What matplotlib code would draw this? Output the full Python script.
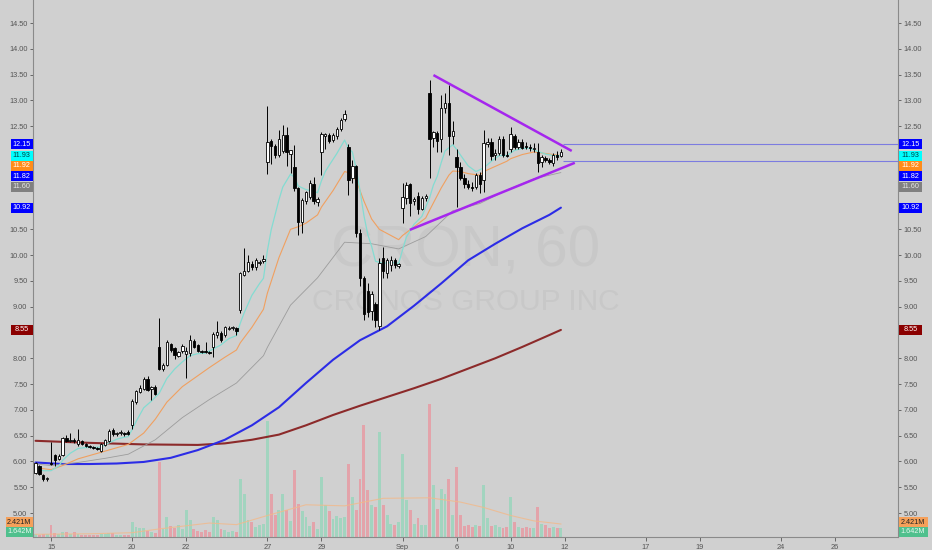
import matplotlib
matplotlib.use("Agg")
import matplotlib.pyplot as plt
from matplotlib.patches import Rectangle
import numpy as np

plt.rcParams['font.family'] = ['Liberation Sans', 'DejaVu Sans']

# CRON 60 min bars. bar 0 = Aug 15 open, 7 bars per trading day
first_bar = -4
opens = [5.78, 5.91, 5.74, 5.65,
         5.97, 6.13, 6.05, 6.13, 6.45, 6.40, 6.40,
         6.33, 6.40, 6.33, 6.30, 6.28, 6.26, 6.21,
         6.32, 6.40, 6.60, 6.53, 6.56, 6.54, 6.57,
         6.70, 7.15, 7.35, 7.40, 7.60, 7.40, 7.45,
         8.22, 7.80, 7.87, 8.27, 8.20, 8.05, 8.14,
         8.08, 8.10, 8.34, 8.25, 8.14, 8.13, 8.13,
         8.21, 8.46, 8.49, 8.45, 8.56, 8.58, 8.58,
         8.94, 9.62, 9.70, 9.82, 9.76, 9.85, 9.88,
         11.80, 12.22, 12.12, 11.95, 12.02, 12.32, 11.97,
         11.70, 11.30, 10.65, 11.05, 11.12, 11.37, 11.03,
         12.00, 12.30, 12.33, 12.24, 12.30, 12.44, 12.63,
         12.10, 11.50, 11.72, 10.43, 9.55, 9.30, 8.92,
         9.05, 8.62, 9.95, 9.65, 9.80, 9.90, 9.78,
         10.92, 11.10, 11.38, 11.05, 11.15, 10.90, 11.10,
         13.15, 12.28, 12.36, 12.25, 12.85, 12.95, 12.30,
         11.90, 11.70, 11.50, 11.38, 11.33, 11.32, 11.55,
         11.46, 12.15, 12.20, 11.95, 11.98, 12.25, 11.95,
         12.05, 12.30, 12.10, 12.20, 12.12, 12.10, 12.05,
         12.00, 11.80, 11.88, 11.85, 11.78, 11.95, 11.92]
highs = [5.99, 5.93, 5.76, 5.70,
         6.38, 6.15, 6.15, 6.47, 6.52, 6.56, 6.45,
         6.63, 6.42, 6.36, 6.32, 6.30, 6.28, 6.35,
         6.43, 6.63, 6.65, 6.58, 6.60, 6.58, 6.60,
         7.22, 7.38, 7.48, 7.64, 7.65, 7.46, 7.48,
         8.78, 7.90, 8.36, 8.30, 8.22, 8.15, 8.28,
         8.22, 8.45, 8.38, 8.28, 8.16, 8.32, 8.15,
         8.50, 8.73, 8.52, 8.62, 8.62, 8.62, 8.60,
         9.68, 10.13, 10.00, 9.88, 9.95, 9.90, 10.00,
         12.89, 12.25, 12.15, 12.42, 12.52, 12.48, 12.04,
         12.14, 11.32, 11.10, 11.25, 11.45, 11.52, 11.12,
         12.38, 12.36, 12.36, 12.36, 12.48, 12.66, 12.82,
         12.15, 11.85, 11.75, 10.50, 9.60, 9.45, 9.30,
         9.10, 9.95, 10.15, 9.95, 9.98, 9.95, 9.85,
         11.40, 11.42, 11.40, 11.12, 11.22, 11.15, 11.18,
         13.40, 12.40, 12.40, 13.10, 13.15, 13.30, 12.60,
         12.05, 11.80, 11.58, 11.45, 11.42, 11.60, 11.62,
         12.43, 12.28, 12.28, 12.05, 12.30, 12.30, 12.02,
         12.48, 12.35, 12.25, 12.25, 12.20, 12.15, 12.18,
         12.17, 11.95, 11.92, 11.88, 11.98, 12.02, 12.05]
lows = [5.76, 5.74, 5.62, 5.62,
        5.93, 5.91, 6.02, 6.10, 6.38, 6.37, 6.36,
        6.30, 6.31, 6.28, 6.26, 6.24, 6.22, 6.19,
        6.30, 6.38, 6.50, 6.50, 6.52, 6.50, 6.52,
        6.62, 7.12, 7.33, 7.38, 7.36, 7.20, 7.28,
        7.78, 7.76, 7.85, 8.12, 7.98, 8.02, 8.10,
        7.62, 8.05, 8.20, 8.12, 8.10, 8.10, 8.08,
        8.02, 8.40, 8.32, 8.42, 8.54, 8.55, 8.45,
        8.88, 9.60, 9.68, 9.72, 9.72, 9.80, 9.85,
        11.57, 11.76, 11.88, 11.90, 11.98, 11.73, 11.59,
        11.25, 10.39, 10.42, 11.00, 11.08, 11.00, 10.95,
        11.55, 12.05, 12.18, 12.20, 12.25, 12.40, 12.60,
        11.17, 11.40, 10.35, 9.40, 8.75, 8.80, 8.75,
        8.60, 8.55, 9.55, 9.55, 9.70, 9.75, 9.75,
        10.62, 11.00, 10.75, 10.98, 10.80, 10.88, 11.05,
        11.50, 12.10, 12.00, 12.00, 12.75, 11.95, 12.15,
        10.94, 11.45, 11.30, 11.28, 11.25, 11.28, 11.20,
        11.23, 12.10, 11.85, 11.85, 11.95, 11.90, 11.90,
        12.00, 12.05, 12.05, 12.05, 12.05, 12.02, 12.00,
        11.62, 11.70, 11.80, 11.76, 11.72, 11.85, 11.90]
closes = [5.97, 5.76, 5.65, 5.67,
          5.95, 6.02, 6.10, 6.45, 6.40, 6.41, 6.39,
          6.42, 6.33, 6.30, 6.28, 6.26, 6.24, 6.33,
          6.41, 6.59, 6.53, 6.56, 6.56, 6.53, 6.54,
          7.18, 7.36, 7.42, 7.60, 7.38, 7.44, 7.30,
          7.80, 7.86, 8.32, 8.17, 8.06, 8.12, 8.24,
          8.14, 8.35, 8.22, 8.14, 8.13, 8.12, 8.11,
          8.48, 8.50, 8.35, 8.60, 8.59, 8.58, 8.52,
          9.65, 9.70, 9.87, 9.76, 9.90, 9.85, 9.93,
          12.20, 12.12, 11.95, 12.25, 12.32, 12.00, 12.03,
          11.30, 10.65, 11.07, 11.22, 11.40, 11.05, 11.08,
          12.35, 12.34, 12.22, 12.33, 12.44, 12.62, 12.74,
          11.45, 11.72, 10.43, 9.55, 8.85, 8.90, 9.25,
          8.75, 9.85, 9.70, 9.90, 9.90, 9.80, 9.82,
          11.12, 11.36, 11.02, 11.08, 10.90, 11.10, 11.15,
          12.25, 12.38, 12.22, 12.85, 12.95, 12.30, 12.40,
          11.70, 11.50, 11.38, 11.33, 11.30, 11.55, 11.38,
          12.17, 12.20, 11.92, 11.98, 12.25, 11.95, 11.93,
          12.35, 12.10, 12.20, 12.08, 12.10, 12.08, 12.06,
          11.78, 11.90, 11.85, 11.80, 11.95, 11.90, 12.00]
volumes = [0.5, 0.4, 0.6, 0.5,
           2.3, 0.8, 0.6, 0.9, 1.0, 0.5, 1.0,
           0.6, 0.4, 0.4, 0.3, 0.3, 0.4, 0.5,
           0.5, 0.8, 0.7, 0.4, 0.3, 0.3, 0.4,
           2.8, 1.8, 1.6, 1.7, 1.2, 0.9, 0.8,
           14.0, 1.5, 3.7, 2.0, 1.6, 2.2, 1.5,
           5.0, 3.2, 1.5, 1.2, 1.0, 1.3, 0.9,
           3.7, 3.2, 1.5, 1.3, 1.0, 1.2, 1.0,
           10.8, 8.0, 3.2, 2.8, 1.8, 2.2, 2.5,
           21.6, 8.0, 4.1, 5.0, 8.0, 5.0, 3.0,
           12.5, 6.1, 4.8, 3.7, 2.0, 2.8, 1.5,
           11.2, 6.0, 4.8, 3.4, 4.0, 3.5, 3.8,
           13.6, 7.4, 5.0, 10.8, 20.8, 8.7, 6.0,
           5.5, 19.5, 6.0, 4.1, 2.5, 2.2, 2.8,
           15.4, 6.9, 5.0, 2.5, 3.5, 2.2, 2.2,
           24.7, 9.7, 5.2, 8.9, 8.0, 10.8, 4.1,
           13.0, 4.1, 2.0, 2.2, 1.8, 2.2, 2.0,
           9.7, 3.5, 2.0, 2.2, 1.9, 1.7, 1.8,
           7.4, 2.8, 1.9, 1.7, 1.8, 1.6, 1.6,
           5.6, 2.4, 2.2, 1.7, 1.8, 1.6, 1.642]  # millions

# moving averages: (bar, value)
ema9_pts = [(-4, 5.88), (-2, 5.82), (0, 5.82), (2, 5.91), (3, 6.02), (5, 6.16), (7, 6.25),
            (9, 6.27), (11, 6.27), (13, 6.28), (15, 6.36), (17, 6.43), (19, 6.47), (20, 6.48),
            (21, 6.62), (22, 6.77), (24, 7.04), (26, 7.17), (28, 7.32), (30, 7.61), (32, 7.79),
            (34, 7.93), (36, 8.05), (38, 8.09), (40, 8.10), (42, 8.18), (44, 8.26), (46, 8.38),
            (48, 8.44), (49, 8.68), (50, 8.88), (52, 9.22), (54, 9.45), (55, 9.55), (56, 10.08),
            (57, 10.49), (58, 10.78), (59, 11.07), (60, 11.32), (62, 11.57), (63, 11.51),
            (64, 11.34), (66, 11.27), (68, 11.24), (69, 11.21), (70, 11.44), (71, 11.62),
            (72, 11.74), (74, 11.97), (76, 12.23), (77, 12.07), (78, 12.00), (79, 11.68),
            (80, 11.25), (81, 10.77), (82, 10.40), (83, 10.17), (84, 9.88), (86, 9.84),
            (88, 9.86), (90, 9.84), (91, 10.10), (92, 10.35), (94, 10.60), (96, 10.75),
            (98, 11.11), (99, 11.36), (100, 11.53), (101, 11.79), (102, 12.02), (103, 12.08),
            (104, 12.14), (105, 12.05), (106, 11.94), (108, 11.73), (110, 11.62), (112, 11.69),
            (114, 11.82), (116, 11.93), (118, 11.93), (120, 12.03), (122, 12.07), (124, 12.07),
            (126, 12.01), (128, 11.96), (130, 11.93), (132, 11.93)]
ema20_pts = [(-4, 5.88), (0, 5.84), (3, 5.92), (7, 6.05), (14, 6.20), (20, 6.33), (24, 6.55),
             (27, 6.82), (30, 7.15), (34, 7.45), (41, 7.82), (45, 8.02), (48, 8.16), (49, 8.30),
             (52, 8.60), (55, 8.95), (56, 9.26), (59, 9.95), (62, 10.50), (64, 10.55),
             (66, 10.62), (69, 10.78), (70, 10.93), (73, 11.25), (76, 11.62), (77, 11.60),
             (79, 11.45), (81, 11.05), (83, 10.70), (85, 10.50), (88, 10.38), (90, 10.30),
             (91, 10.38), (94, 10.55), (97, 10.72), (98, 10.87), (101, 11.30), (103, 11.55),
             (104, 11.63), (106, 11.62), (108, 11.58), (111, 11.55), (112, 11.62), (115, 11.72),
             (118, 11.82), (119, 11.87), (122, 11.95), (125, 12.00), (128, 11.97), (132, 11.93)]
ema50_pts = [(-4, 5.95), (0, 5.92), (7, 5.98), (14, 6.06), (20, 6.14), (27, 6.42), (34, 6.85),
             (41, 7.20), (48, 7.52), (55, 8.05), (56, 8.21), (62, 9.03), (69, 9.56), (76, 10.25),
             (83, 10.22), (90, 10.12), (97, 10.36), (104, 10.86), (111, 11.00), (118, 11.26),
             (125, 11.48), (132, 11.60)]
ma100_pts = [(-4, 5.98), (3, 5.95), (10, 5.95), (17, 5.96), (24, 5.99), (31, 6.07), (38, 6.22),
             (45, 6.42), (52, 6.70), (59, 7.05), (66, 7.52), (73, 7.97), (80, 8.35), (87, 8.62),
             (94, 9.02), (101, 9.45), (108, 9.90), (115, 10.22), (122, 10.52), (129, 10.78),
             (132, 10.92)]
ma200_pts = [(-4, 6.40), (10, 6.36), (24, 6.33), (38, 6.32), (45, 6.35), (52, 6.42), (59, 6.52),
             (66, 6.70), (73, 6.90), (80, 7.08), (87, 7.25), (94, 7.42), (101, 7.60), (108, 7.80),
             (115, 8.00), (122, 8.22), (129, 8.45), (132, 8.55)]
volma_pts = [(-4, 0.5), (10, 0.6), (21, 0.8), (28, 1.5), (41, 2.6), (48, 2.3), (56, 4.0),
             (66, 6.0), (76, 5.8), (86, 7.2), (98, 7.3), (106, 6.5), (112, 5.5), (119, 4.0),
             (125, 3.0), (132, 2.421)]

# triangle drawn on the chart: (bar, price) endpoints
upper_line = [(99.0, 13.49), (134.8, 12.02)]
lower_line = [(92.9, 10.49), (135.6, 11.79)]
ray_levels = [12.15, 11.82]
ray_start = 132.5

tick_days = [0, 3, 5, 8, 10, 13, 15, 17, 19, 22, 24, 27, 29]
tick_labels = ['15', '20', '22', '27', '29', 'Sep', '6', '10', '12', '17', '19', '24', '26']
bars_per_day = 7

price_tags = [('12.15', 12.15, '#0000ff', 'white'),
              ('11.93', 11.93, '#00ffff', '#004444'),
              ('11.92', 11.92, '#ff8c1a', 'white'),
              ('11.82', 11.82, '#0000ff', 'white'),
              ('11.60', 11.60, '#808080', '#e6e6e6'),
              ('10.92', 10.92, '#0000ff', 'white'),
              ('8.55', 8.55, '#8b0000', 'white')]
vol_tags = [('2.421M', '#f5a05a', '#222222'), ('1.642M', '#4fc08d', '#e8f8f0')]
hidden_ticks = [12.0, 11.5, 11.0, 8.5]   # covered by the price tags

W, H = 932, 550
BG = '#d0d0d0'
TXT = '#555555'
fig = plt.figure(figsize=(W / 100, H / 100), dpi=100, facecolor=BG)
ax = fig.add_axes([33 / W, 13 / H, 865 / W, 537 / H])
axv = ax.twinx()
ax.set_zorder(axv.get_zorder() + 1)
ax.patch.set_visible(False)
axv.patch.set_facecolor(BG)

bars = np.arange(first_bar, first_bar + len(closes))
o = np.array(opens); h = np.array(highs); l = np.array(lows); c = np.array(closes)
up = c >= o

# volume
vcols = ['#a2d4bf' if u else '#e3a3aa' for u in up]
axv.bar(bars, volumes, width=0.75, color=vcols, linewidth=0)
vx, vy = zip(*volma_pts)
axv.plot(vx, vy, color='#f2b98a', lw=0.8, alpha=0.8)
axv.set_ylim(0, 100)
axv.set_yticks([])
for s in axv.spines.values():
    s.set_visible(False)

# moving averages
for pts, col, lw in [(ma200_pts, '#8c2a2a', 1.5), (ma100_pts, '#2c2ce6', 1.5),
                     (ema50_pts, '#9c9c9c', 0.6), (ema20_pts, '#f0a060', 0.8),
                     (ema9_pts, '#84dcd2', 0.9)]:
    px, py = zip(*pts)
    ax.plot(px, py, color=col, lw=lw, zorder=2, solid_capstyle='round')

# candles
ax.vlines(bars, l, h, color='black', lw=0.7, zorder=3)
body_lo = np.minimum(o, c)
body_h = np.maximum(np.abs(c - o), 0.02)
faces = ['white' if u else 'black' for u in up]
ax.bar(bars, body_h, bottom=body_lo, width=0.62, color=faces, edgecolor='black',
       linewidth=0.6, zorder=4)

# drawings
for ln in (upper_line, lower_line):
    lx, ly = zip(*ln)
    ax.plot(lx, ly, color='#a526ee', lw=1.8, zorder=5, solid_capstyle='butt')
ax.hlines(ray_levels, ray_start, 230, color='#7c7ce0', lw=0.8, zorder=5)

# watermark
ax.text(0.5, 0.531, 'CRON, 60', transform=ax.transAxes, fontsize=42, color='#c8c8c8',
        ha='center', va='center', zorder=0)
ax.text(0.5, 0.438, 'CRONOS GROUP INC', transform=ax.transAxes, fontsize=21.5,
        color='#c8c8c8', ha='center', va='center', zorder=0)

ax.set_xlim(-4.66, 219.26)
ax.set_ylim(4.535, 14.946)
yt = np.arange(5.0, 14.51, 0.5)
ax.set_yticks(yt)
ax.set_yticklabels(['' if any(abs(v - hv) < 1e-6 for hv in hidden_ticks) else '%.2f' % v
                    for v in yt])
ax.set_xticks([d * bars_per_day for d in tick_days])
ax.set_xticklabels(tick_labels)
ax.tick_params(axis='y', left=True, right=True, labelleft=True, labelright=True,
               labelsize=5.3, colors=TXT, length=2.5, width=0.6, pad=1.5)
ax.tick_params(axis='x', labelsize=5.3, colors=TXT, length=3, width=0.6, pad=2)
ax.spines['top'].set_visible(False)
for side in ('left', 'right', 'bottom'):
    ax.spines[side].set_color('#8a8a8a')
    ax.spines[side].set_linewidth(0.8)


def tag(xl, yc, w, txt, bg, fg):
    fig.add_artist(Rectangle((xl / W, 1 - (yc + 5) / H), w / W, 10 / H,
                             transform=fig.transFigure, facecolor=bg, edgecolor='none',
                             zorder=5))
    fig.text((xl + w / 2) / W, 1 - yc / H, txt, ha='center', va='center',
             fontsize=5.2, color=fg, zorder=6)


# price tags stacked so they do not overlap
prev = -100
for txt, val, bg, fg in price_tags:
    y = H - ax.transData.transform((0, val))[1]
    y = max(y, prev + 10.4)
    prev = y
    tag(10.5, y, 22.5, txt, bg, fg)
    tag(898.5, y, 23.5, txt, bg, fg)

for (txt, bg, fg), y in zip(vol_tags, [522, 531.5]):
    tag(5.5, y, 27.5, txt, bg, fg)
    tag(898.5, y, 29, txt, bg, fg)

fig.savefig('out.png', dpi=100, facecolor=BG)
